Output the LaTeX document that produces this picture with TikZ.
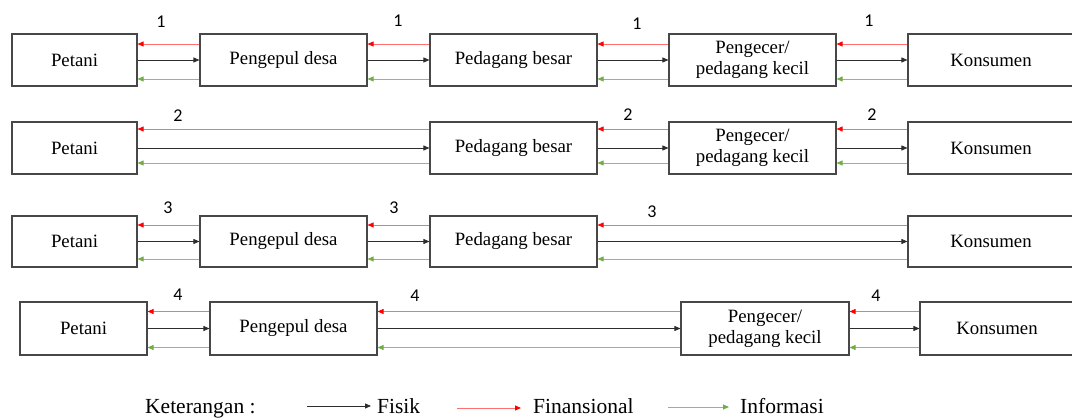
\documentclass[tikz,border=0pt]{standalone}
\usepackage{fontspec}
\setmainfont{Liberation Serif}
\newfontfamily\numfont{Carlito}
\usetikzlibrary{arrows.meta}
\definecolor{finred}{RGB}{255,0,0}
\definecolor{finline}{RGB}{255,110,110}
\definecolor{infgreen}{RGB}{112,173,71}
\definecolor{infline}{RGB}{140,190,110}
\definecolor{fisblack}{RGB}{45,45,45}
\tikzset{
  actor/.style={draw=black!72, line width=1.1pt, rectangle, inner sep=0pt,
    font=\fontsize{18.8}{21}\selectfont, align=center},
  fis/.style={draw=fisblack, line width=0.8pt, -{Triangle[length=6pt,width=5pt]}},
  fin/.style={draw=finline, line width=0.8pt, -{Triangle[length=6pt,width=5pt,color=finred]}},
  inf/.style={draw=infline, line width=0.8pt, -{Triangle[length=6pt,width=5pt,color=infgreen]}},
  num/.style={font=\numfont\fontsize{18}{18}\selectfont, inner sep=0pt},
  leg/.style={font=\fontsize{21.5}{21.5}\selectfont, inner sep=0pt},
}
\newcommand\flows[4]{%
  \draw[fin] ([yshift=#3]#2.west) -- ([yshift=#3]#1.east);
  \draw[fis] (#1.east) -- (#2.west);
  \draw[inf] ([yshift=#4]#2.west) -- ([yshift=#4]#1.east);
}
\begin{document}
\begin{tikzpicture}[x=1pt,y=-1pt]
\useasboundingbox (0,0) rectangle (1072,419);
% Row 1
\node[actor, minimum width=125pt, minimum height=52pt] (p1) at (74.5,60) {Petani};
\node[actor, minimum width=167pt, minimum height=52pt] (c1) at (283.5,60) {Pengepul desa};
\node[actor, minimum width=167pt, minimum height=52pt] (b1) at (513.5,60) {Pedagang besar};
\node[actor, minimum width=167pt, minimum height=52pt] (r1) at (752.5,60) {Pengecer/\\pedagang kecil};
\node[actor, minimum width=166pt, minimum height=52pt] (k1) at (991,60) {Konsumen};
\flows{p1}{c1}{16pt}{-19pt}
\flows{c1}{b1}{16pt}{-19pt}
\flows{b1}{r1}{16pt}{-19pt}
\flows{r1}{k1}{16pt}{-19pt}
\node[num] (n11) at (161,22) {1};
\node[num] (n12) at (398,21) {1};
\node[num] (n13) at (637,24) {1};
\node[num] (n14) at (869,21) {1};
% Row 2
\node[actor, minimum width=125pt, minimum height=52pt] (p2) at (74.5,148) {Petani};
\node[actor, minimum width=167pt, minimum height=52pt] (b2) at (513.5,148) {Pedagang besar};
\node[actor, minimum width=167pt, minimum height=52pt] (r2) at (752.5,148) {Pengecer/\\pedagang kecil};
\node[actor, minimum width=166pt, minimum height=52pt] (k2) at (991,148) {Konsumen};
\flows{p2}{b2}{19pt}{-15pt}
\flows{b2}{r2}{19pt}{-15pt}
\flows{r2}{k2}{19pt}{-15pt}
\node[num] (n21) at (178,116) {2};
\node[num] (n22) at (628,115) {2};
\node[num] (n23) at (872,115) {2};
% Row 3
\node[actor, minimum width=125pt, minimum height=51pt] (p3) at (74.5,241.5) {Petani};
\node[actor, minimum width=167pt, minimum height=51pt] (c3) at (283.5,241.5) {Pengepul desa};
\node[actor, minimum width=167pt, minimum height=51pt] (b3) at (513.5,241.5) {Pedagang besar};
\node[actor, minimum width=166pt, minimum height=51pt] (k3) at (991,241.5) {Konsumen};
\flows{p3}{c3}{16.5pt}{-17.5pt}
\flows{c3}{b3}{16.5pt}{-17.5pt}
\flows{b3}{k3}{16.5pt}{-17.5pt}
\node[num] (n31) at (168,208) {3};
\node[num] (n32) at (394,208) {3};
\node[num] (n33) at (652,212) {3};
% Row 4
\node[actor, minimum width=127pt, minimum height=53pt] (p4) at (83.5,328.5) {Petani};
\node[actor, minimum width=167pt, minimum height=53pt] (c4) at (293.5,328.5) {Pengepul desa};
\node[actor, minimum width=168pt, minimum height=53pt] (r4) at (765,328.5) {Pengecer/\\pedagang kecil};
\node[actor, minimum width=154pt, minimum height=53pt] (k4) at (997,328.5) {Konsumen};
\flows{p4}{c4}{17pt}{-19pt}
\flows{c4}{r4}{17pt}{-19pt}
\flows{r4}{k4}{17pt}{-19pt}
\node[num] (n41) at (178,295) {4};
\node[num] (n42) at (415,296) {4};
\node[num] (n43) at (876,296) {4};
% Legend
\node[leg, anchor=base west] (ket) at (145,414) {Keterangan :};
\coordinate (fa) at (307,406);
\coordinate (fb) at (371,406);
\draw[fis] (fa) -- (fb);
\node[leg, anchor=base west] (fisik) at (377,414) {Fisik};
\coordinate (na) at (457,408);
\coordinate (nb) at (521,408);
\draw[fin] (na) -- (nb);
\node[leg, anchor=base west] (finan) at (533,414) {Finansional};
\coordinate (ia) at (668,407);
\coordinate (ib) at (729,407);
\draw[inf] (ia) -- (ib);
\node[leg, anchor=base west] (infor) at (740,414) {Informasi};
\end{tikzpicture}
\end{document}
